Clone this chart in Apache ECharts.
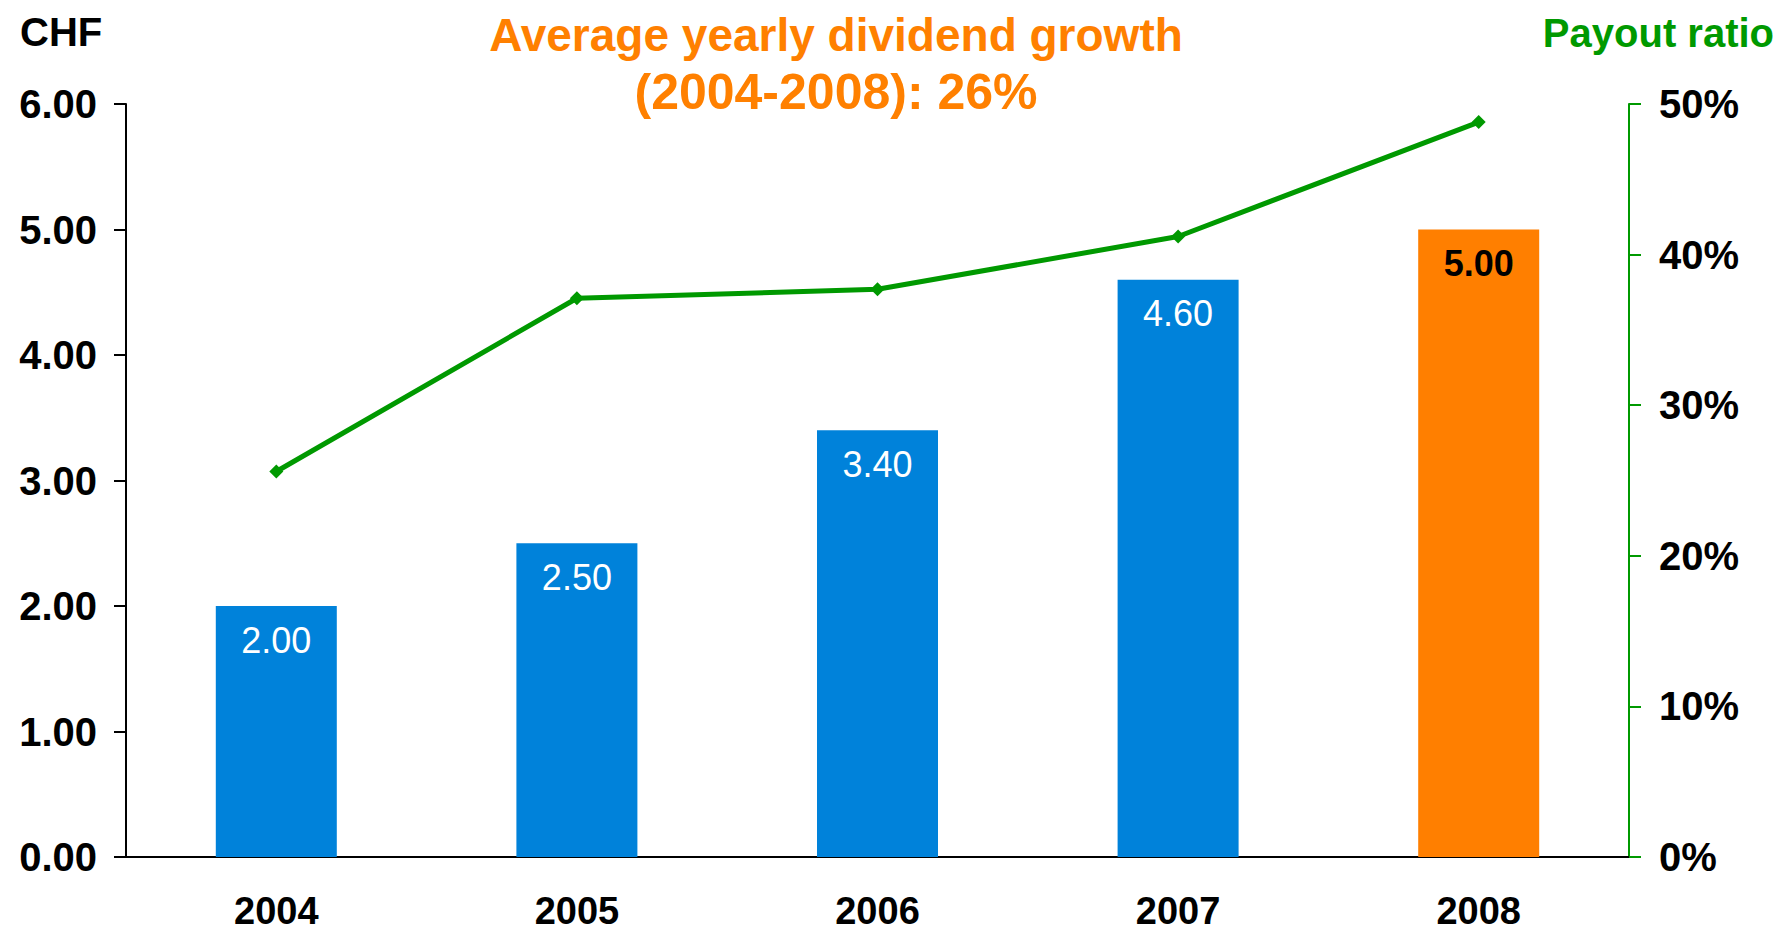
<!DOCTYPE html>
<html>
<head>
<meta charset="utf-8">
<script src="https://cdn.jsdelivr.net/npm/echarts@6/dist/echarts.min.js"></script>
<style>
  html, body { margin: 0; padding: 0; background: #ffffff; }
  #chart { width: 1785px; height: 933px; }
</style>
</head>
<body>
<div id="chart"></div>
<script>
// ---- data ----
var years = ['2004', '2005', '2006', '2007', '2008'];
var dividends = [2.00, 2.50, 3.40, 4.60, 5.00];
var payoutRatio = [25.6, 37.1, 37.7, 41.2, 48.8];
var leftTicks = { min: 0, max: 6, interval: 1 };
var rightTicks = { min: 0, max: 50, interval: 10 };
var titleLine1 = 'Average yearly dividend growth';
var titleLine2 = '(2004-2008): 26%';
var leftAxisName = 'CHF';
var rightAxisName = 'Payout ratio';

var BLUE = '#0082DA';
var ORANGE = '#FF8000';
var GREEN = '#009900';
var FONT = '"Liberation Sans", Arial, Helvetica, sans-serif';

var barData = dividends.map(function (v, i) {
  var last = i === dividends.length - 1;
  return {
    value: v,
    itemStyle: { color: last ? '#FF7F00' : BLUE },
    label: {
      color: last ? '#000000' : '#ffffff',
      fontWeight: last ? 'bold' : 'normal'
    }
  };
});

var chart = echarts.init(document.getElementById('chart'), null, { renderer: 'svg' });
chart.setOption({
  backgroundColor: '#ffffff',
  animation: false,
  title: [
    {
      text: leftAxisName, left: 15, top: 7,
      textStyle: { fontFamily: FONT, fontSize: 40, fontWeight: 'bold', color: '#000000' }
    },
    {
      text: '{a|' + titleLine1 + '}\n{b|' + titleLine2 + '}', left: 831, top: 1, textAlign: 'center',
      textStyle: {
        fontFamily: FONT, fontSize: 46, fontWeight: 'bold', color: ORANGE, lineHeight: 57, align: 'center',
        rich: {
          a: { fontFamily: FONT, fontSize: 46, fontWeight: 'bold', color: ORANGE, lineHeight: 57, align: 'center' },
          b: { fontFamily: FONT, fontSize: 50, fontWeight: 'bold', color: ORANGE, lineHeight: 57, align: 'center' }
        }
      }
    },
    {
      text: rightAxisName, right: 6, top: 8,
      textStyle: { fontFamily: FONT, fontSize: 40, fontWeight: 'bold', color: GREEN }
    }
  ],
  grid: { left: 126, right: 156, top: 104, bottom: 76, containLabel: false },
  xAxis: {
    type: 'category',
    data: years,
    axisLine: { show: true, lineStyle: { color: '#000000', width: 2 } },
    axisTick: { show: false },
    axisLabel: { margin: 39, lineHeight: 30, fontFamily: FONT, fontSize: 38, fontWeight: 'bold', color: '#000000' }
  },
  yAxis: [
    {
      type: 'value', position: 'left',
      min: leftTicks.min, max: leftTicks.max, interval: leftTicks.interval,
      axisLine: { show: true, lineStyle: { color: '#000000', width: 2 } },
      axisTick: { show: true, length: 12, lineStyle: { color: '#000000', width: 2 } },
      splitLine: { show: false },
      axisLabel: {
        margin: 29, padding: [4, 0, 0, 0], fontFamily: FONT, fontSize: 40, fontWeight: 'bold', color: '#000000',
        formatter: function (v) { return v.toFixed(2); }
      }
    },
    {
      type: 'value', position: 'right',
      min: rightTicks.min, max: rightTicks.max, interval: rightTicks.interval,
      axisLine: { show: true, lineStyle: { color: GREEN, width: 2 } },
      axisTick: { show: true, length: 12, lineStyle: { color: GREEN, width: 2 } },
      splitLine: { show: false },
      axisLabel: {
        margin: 30, padding: [4, 0, 0, 0], fontFamily: FONT, fontSize: 40, fontWeight: 'bold', color: '#000000',
        formatter: '{value}%'
      }
    }
  ],
  series: [
    {
      type: 'bar',
      yAxisIndex: 0,
      data: barData,
      barWidth: 121,
      label: {
        show: true, position: 'insideTop', distance: 16,
        fontFamily: FONT, fontSize: 36,
        formatter: function (p) { return p.value.toFixed(2); }
      }
    },
    {
      type: 'line',
      yAxisIndex: 1,
      data: payoutRatio,
      symbol: 'diamond',
      symbolSize: 14,
      lineStyle: { color: GREEN, width: 5 },
      itemStyle: { color: GREEN },
      z: 5
    }
  ]
});
</script>
</body>
</html>
